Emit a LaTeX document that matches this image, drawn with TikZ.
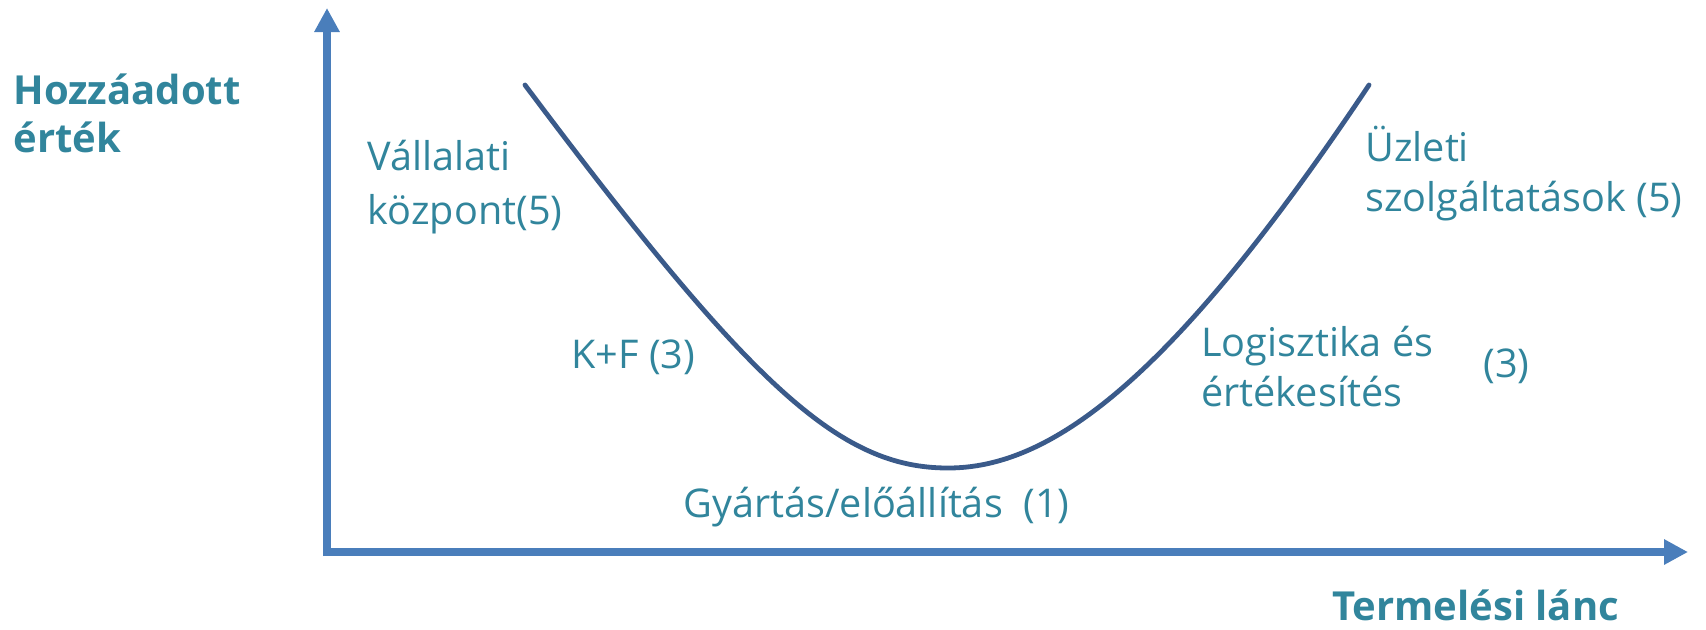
\documentclass[tikz,border=0pt]{standalone}
\usepackage{fontspec}
\setmainfont{Open Sans}
\usetikzlibrary{arrows.meta}
\definecolor{axisblue}{HTML}{4A7EBB}
\definecolor{curveblue}{HTML}{3A5A8A}
\definecolor{tealtext}{HTML}{31859C}
\begin{document}
\begin{tikzpicture}[x=0.5pt,y=-0.5pt,
  axis/.style={draw=axisblue,line width=4pt,-{Triangle[length=12pt,width=12pt]}},
  curve/.style={draw=curveblue,line width=2.4pt},
  lbl/.style={text=tealtext,inner sep=0pt,anchor=base west,align=left,font=\fontsize{19.8}{25}\selectfont},
  title/.style={lbl,font=\fontsize{20}{24}\selectfont\bfseries}]
\useasboundingbox (0,0) rectangle (1706,629);
% axes
\coordinate (Ytip) at (327,8);
\coordinate (Xtip) at (1688,552);
\coordinate (Obot) at (327,556);
\coordinate (Oleft) at (325,552);
\draw[axis] (Obot) -- (Ytip);
\draw[axis] (Oleft) -- (Xtip);
% curve
\coordinate (cS) at (525,85);
\coordinate (cM) at (948,468);
\coordinate (cE) at (1369,85);
\draw[curve,line cap=round] (cS) .. controls (752,388) and (840,468) .. (cM)
  .. controls (1048,468) and (1168,386) .. (cE);
% labels (base = baseline of the last line)
\node[title] (yl) at (13,152) {Hozzáadott\\érték};
\node[title] (xl) at (1332,620) {Termelési lánc};
\node[lbl] (vk) at (367,224) {Vállalati\\[2pt]központ(5)};
\node[lbl] (usz) at (1365,211) {Üzleti\\szolgáltatások (5)};
\node[lbl] (kf) at (571,368) {K+F (3)};
\node[lbl] (le) at (1201,406) {Logisztika és\\értékesítés};
\node[lbl] (le3) at (1483,377) {(3)};
\node[lbl] (gy) at (683,517) {Gyártás/előállítás\ \ (1)};
\end{tikzpicture}
\end{document}
